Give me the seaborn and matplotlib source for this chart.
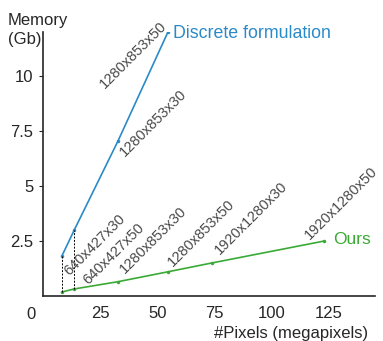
import numpy as np
import pandas as pd
import seaborn as sns
import matplotlib.pyplot as plt

sns.set_style("ticks")
plt.rcParams["font.family"] = ["Liberation Sans", "DejaVu Sans"]

# data
configs = ["640x427x30", "640x427x50", "1280x853x30", "1280x853x50", "1920x1280x30", "1920x1280x50"]
megapixels = [8.2, 13.7, 32.8, 54.6, 73.7, 122.9]
mem_discrete = [1.8, 3.0, 7.05, 12.0]
mem_ours = [0.18, 0.32, 0.65, 1.1, 1.5, 2.5]

blue = "#2a8ac8"
green = "#3aaa35"
txt = "#4a4a4a"

df_d = pd.DataFrame({"x": megapixels[:4], "y": mem_discrete})
df_o = pd.DataFrame({"x": megapixels, "y": mem_ours})

fig = plt.figure(figsize=(3.83, 3.41), dpi=100)
ax = fig.add_axes([0.112, 0.132, 0.867, 0.774])

sns.lineplot(data=df_d, x="x", y="y", ax=ax, color=blue, lw=1.2,
             marker="o", markersize=2.5, markeredgewidth=0)
sns.lineplot(data=df_o, x="x", y="y", ax=ax, color=green, lw=1.2,
             marker="o", markersize=2.5, markeredgewidth=0)

# dashed connectors for the two smallest configs
for i in range(2):
    ax.plot([megapixels[i]] * 2, [mem_ours[i], mem_discrete[i]],
            color="black", ls=(0, (2, 1.5)), lw=0.7)

# rotated config labels (lower-left anchor of each label)
fs = 10.5
label_pos = [
    (configs[3], 28.2, 9.32),
    (configs[2], 36.9, 6.22),
    (configs[0], 12.4, 0.82),
    (configs[1], 20.8, 0.41),
    (configs[2], 36.9, 0.91),
    (configs[3], 57.9, 1.22),
    (configs[4], 78.4, 1.77),
    (configs[5], 117.4, 2.45),
]
for lab, lx, ly in label_pos:
    ax.text(lx, ly, lab, rotation=45, ha="left", va="bottom",
            rotation_mode="anchor", fontsize=fs, color=txt)

ax.text(megapixels[3] + 2, mem_discrete[3] - 0.05, "Discrete formulation",
        color=blue, fontsize=12.8, va="center", ha="left")
ax.text(megapixels[5] + 4, mem_ours[5] + 0.05, "Ours",
        color=green, fontsize=12.5, va="center", ha="left")

ax.set_xlim(0, 145)
ax.set_ylim(0, 12)
ax.set_xticks([25, 50, 75, 100, 125])
ax.set_yticks([2.5, 5, 7.5, 10])
ax.set_yticklabels(["2.5", "5", "7.5", "10"])
ax.tick_params(axis="x", length=0, pad=7, labelsize=12)
ax.tick_params(axis="y", length=3, pad=4, labelsize=12)
ax.text(-0.035, -0.04, "0", transform=ax.transAxes, ha="center", va="top", fontsize=12)

ax.set_xlabel("")
ax.set_ylabel("")
ax.text(0.979, -0.115, "#Pixels (megapixels)", transform=ax.transAxes,
        ha="right", va="top", fontsize=12)
fig.text(0.02, 0.962, "Memory\n(Gb)", ha="left", va="top", fontsize=12, linespacing=1.3)

sns.despine(ax=ax)
for s in ["left", "bottom"]:
    ax.spines[s].set_linewidth(1.2)

fig.savefig("out.png", dpi=100)
